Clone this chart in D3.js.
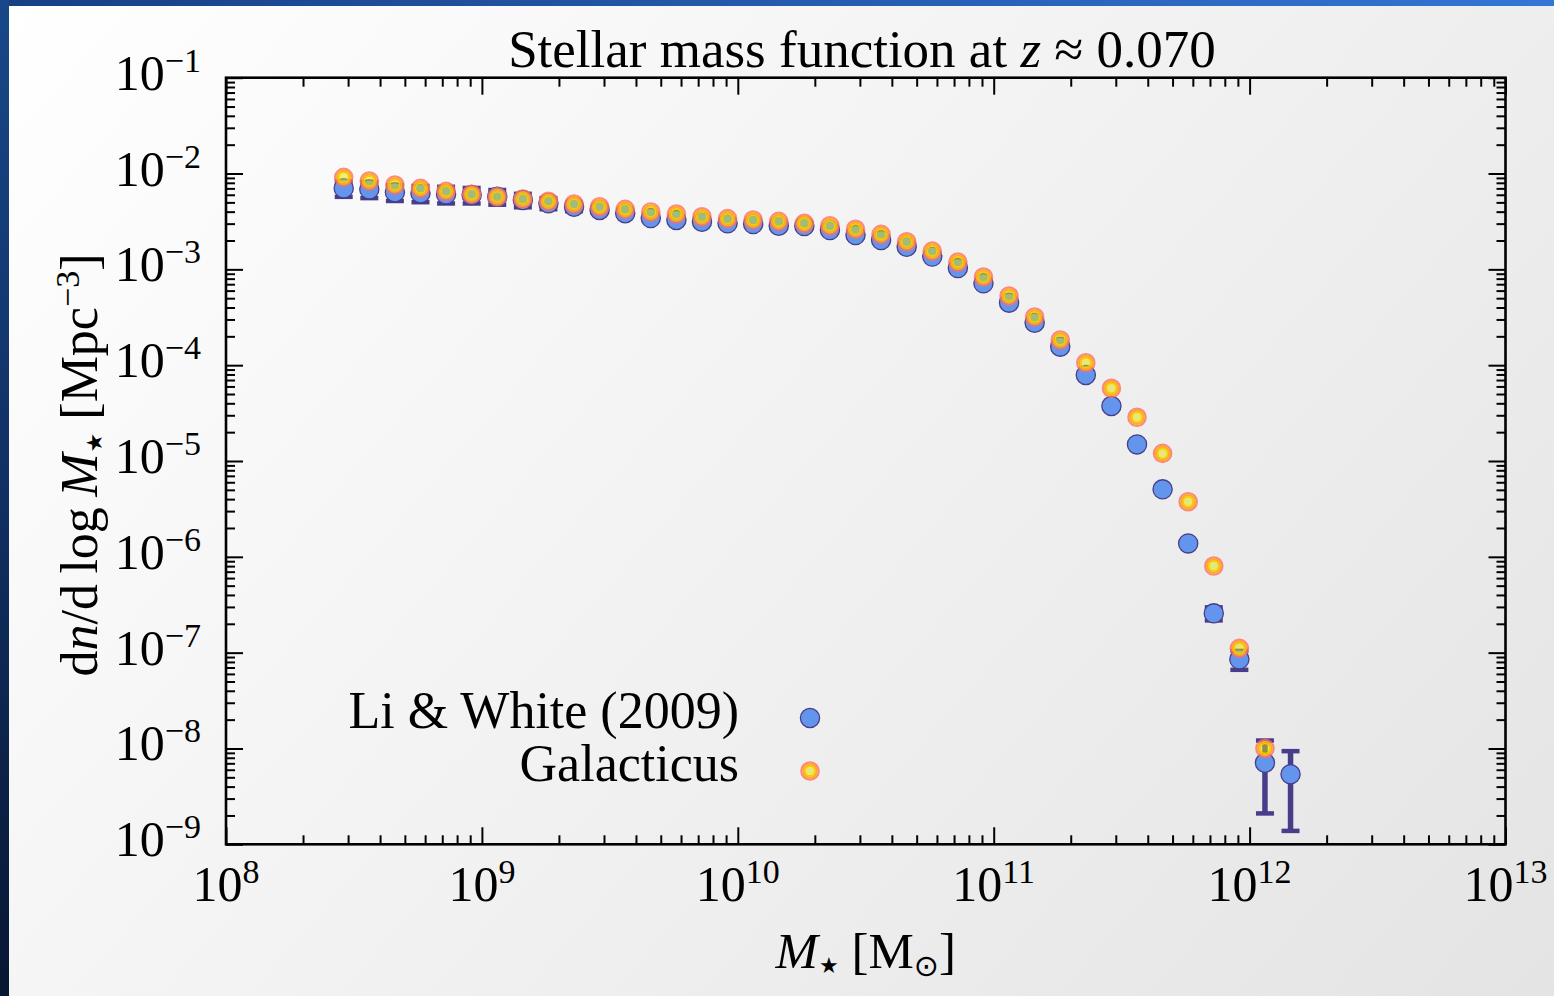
<!DOCTYPE html>
<html>
<head>
<meta charset="utf-8">
<script src="https://cdn.jsdelivr.net/npm/d3@7"></script>
<style>
  html, body { margin: 0; padding: 0; overflow: hidden; background: #ffffff; }
  svg { display: block; }
  text { font-family: "Liberation Serif", "DejaVu Serif", serif; fill: #000; }
</style>
</head>
<body>
<svg id="chart" width="1554" height="996"></svg>
<script>
// Stellar mass bins, log10(M* / Msun)
const logMass = [
  8.46, 8.56, 8.66, 8.76, 8.86, 8.96, 9.06, 9.16, 9.26, 9.36,
  9.46, 9.56, 9.66, 9.76, 9.86, 9.96, 10.06, 10.16, 10.26, 10.36,
  10.46, 10.56, 10.66, 10.76, 10.86, 10.96, 11.06, 11.16, 11.26, 11.36,
  11.46, 11.56, 11.66, 11.76, 11.86, 11.96, 12.06, 12.16
];

// Li & White (2009): dn/dlogM [Mpc^-3] and 1-sigma uncertainties
const liWhitePhi = [
  7.01e-3, 6.84e-3, 6.37e-3, 6.22e-3, 6.07e-3, 5.97e-3, 5.73e-3, 5.29e-3, 4.89e-3, 4.50e-3,
  4.16e-3, 3.85e-3, 3.43e-3, 3.27e-3, 3.14e-3, 3.02e-3, 2.97e-3, 2.85e-3, 2.83e-3, 2.57e-3,
  2.28e-3, 2.02e-3, 1.72e-3, 1.36e-3, 1.03e-3, 7.15e-4, 4.49e-4, 2.77e-4, 1.56e-4, 7.89e-5,
  3.75e-5, 1.49e-5, 5.06e-6, 1.38e-6, 2.57e-7, 8.52e-8, 7.10e-9, 5.38e-9
];
const liWhiteSigma = [
  1.3e-3, 1.3e-3, 1.2e-3, 1.2e-3, 1.2e-3, 1.1e-3, 1.0e-3, 8.5e-4, 6.5e-4, 4.5e-4,
  6.0e-5, 5.0e-5, 4.0e-5, 4.0e-5, 3.5e-5, 3.5e-5, 3.5e-5, 3.0e-5, 3.0e-5, 3.0e-5,
  2.5e-5, 2.2e-5, 2.0e-5, 1.7e-5, 1.3e-5, 1.0e-5, 7.0e-6, 5.0e-6, 3.0e-6, 1.6e-6,
  8.0e-7, 4.0e-7, 1.6e-7, 6.0e-8, 4.0e-8, 1.9e-8, 5.0e-9, 4.0e-9
];

// Galacticus model prediction (one bin fewer than the data)
const galacticusPhi = [
  9.13e-3, 8.36e-3, 7.59e-3, 7.01e-3, 6.52e-3, 6.07e-3, 5.73e-3, 5.42e-3, 5.13e-3, 4.81e-3,
  4.50e-3, 4.23e-3, 3.97e-3, 3.78e-3, 3.54e-3, 3.38e-3, 3.27e-3, 3.17e-3, 3.02e-3, 2.85e-3,
  2.62e-3, 2.32e-3, 1.94e-3, 1.55e-3, 1.19e-3, 8.32e-4, 5.27e-4, 3.18e-4, 1.83e-4, 1.06e-4,
  5.74e-5, 2.86e-5, 1.20e-5, 3.76e-6, 8.02e-7, 1.11e-7, 1.00e-8
];

const xTickExponents = [8, 9, 10, 11, 12, 13];
const yTickExponents = [-1, -2, -3, -4, -5, -6, -7, -8, -9];
const seriesNames = ["Li & White (2009)", "Galacticus"];
const titleRedshift = "0.070";

// ---------------------------------------------------------------
const W = 1554, H = 996;
const plot = { left: 226, right: 1505.5, top: 77.7, bottom: 844.3 };
const svg = d3.select("#chart");
const defs = svg.append("defs");

// Slide-style background: pale diagonal gradient with blue edge bars
const bg = defs.append("linearGradient").attr("id", "bgGrad")
  .attr("gradientUnits", "userSpaceOnUse")
  .attr("x1", 0).attr("y1", 0).attr("x2", 1371).attr("y2", 1203);
bg.append("stop").attr("offset", 0).attr("stop-color", "#ffffff");
bg.append("stop").attr("offset", 1).attr("stop-color", "#e4e4e4");

const topBar = defs.append("linearGradient").attr("id", "topBar")
  .attr("x1", 0).attr("y1", 0).attr("x2", 1).attr("y2", 0);
topBar.append("stop").attr("offset", 0).attr("stop-color", "#173f84");
topBar.append("stop").attr("offset", 1).attr("stop-color", "#3376d6");

const leftBar = defs.append("linearGradient").attr("id", "leftBar")
  .attr("x1", 0).attr("y1", 0).attr("x2", 0).attr("y2", 1);
leftBar.append("stop").attr("offset", 0).attr("stop-color", "#184889");
leftBar.append("stop").attr("offset", 0.5).attr("stop-color", "#112f63");
leftBar.append("stop").attr("offset", 1).attr("stop-color", "#081732");

svg.append("rect").attr("width", W).attr("height", H).attr("fill", "url(#bgGrad)");
svg.append("rect").attr("x", 0).attr("y", 0).attr("width", W).attr("height", 6).attr("fill", "url(#topBar)");
svg.append("rect").attr("x", 0).attr("y", 0).attr("width", 9).attr("height", H).attr("fill", "url(#leftBar)");

// Scales
const x = d3.scaleLog().domain([1e8, 1e13]).range([plot.left, plot.right]);
const y = d3.scaleLog().domain([1e-9, 1e-1]).range([plot.bottom, plot.top]);

const xMajor = xTickExponents.map(e => Math.pow(10, e));
const yMajor = yTickExponents.map(e => Math.pow(10, e));
const isDecade = v => Math.abs(Math.log10(v) - Math.round(Math.log10(v))) < 1e-9;
const xMinor = x.ticks().filter(v => !isDecade(v));
const yMinor = y.ticks().filter(v => !isDecade(v));

// Inward ticks on all four sides
function tickAxis(axisFn, scale, values, size, transform) {
  const g = svg.append("g").attr("transform", transform)
    .call(axisFn(scale).tickValues(values).tickSize(-size).tickSizeOuter(0).tickFormat(""));
  g.select(".domain").remove();
  g.selectAll(".tick line").attr("stroke", "#000").attr("stroke-width", 2);
  return g;
}
const MAJ = 17, MIN = 9;
tickAxis(d3.axisBottom, x, xMajor, MAJ, `translate(0,${plot.bottom})`);
tickAxis(d3.axisBottom, x, xMinor, MIN, `translate(0,${plot.bottom})`);
tickAxis(d3.axisTop, x, xMajor, MAJ, `translate(0,${plot.top})`);
tickAxis(d3.axisTop, x, xMinor, MIN, `translate(0,${plot.top})`);
tickAxis(d3.axisLeft, y, yMajor, MAJ, `translate(${plot.left},0)`);
tickAxis(d3.axisLeft, y, yMinor, MIN, `translate(${plot.left},0)`);
tickAxis(d3.axisRight, y, yMajor, MAJ, `translate(${plot.right},0)`);
tickAxis(d3.axisRight, y, yMinor, MIN, `translate(${plot.right},0)`);

svg.append("rect")
  .attr("x", plot.left).attr("y", plot.top)
  .attr("width", plot.right - plot.left).attr("height", plot.bottom - plot.top)
  .attr("fill", "none").attr("stroke", "#000").attr("stroke-width", 2.6);

// Power-of-ten tick labels
const BASE = 50, SUP = 34;
function powerLabel(g, exp) {
  g.append("tspan").text("10");
  g.append("tspan").attr("font-size", SUP).attr("dy", -18)
    .text(exp < 0 ? "\u2212" + Math.abs(exp) : String(exp));
}
xTickExponents.forEach(e => {
  const t = svg.append("text").attr("x", x(Math.pow(10, e))).attr("y", 901)
    .attr("text-anchor", "middle").attr("font-size", BASE);
  powerLabel(t, e);
});
yTickExponents.forEach(e => {
  const t = svg.append("text").attr("x", 201).attr("y", y(Math.pow(10, e)) + 12)
    .attr("text-anchor", "end").attr("font-size", BASE);
  powerLabel(t, e);
});

// Title
const title = svg.append("text").attr("x", 862).attr("y", 67)
  .attr("text-anchor", "middle").attr("font-size", 53);
title.append("tspan").text("Stellar mass function at ");
title.append("tspan").attr("font-style", "italic").text("z");
title.append("tspan").text(" \u2248 " + titleRedshift);

// Subscript star used in the mass symbol
function starSub(t) {
  t.append("tspan").attr("font-family", "DejaVu Sans").attr("font-size", 22)
    .attr("dx", 1).attr("dy", 5).text("\u2605");
  t.append("tspan").attr("dy", -5).text(" ");
}

// Axis titles
const xt = svg.append("text").attr("x", (plot.left + plot.right) / 2).attr("y", 968)
  .attr("text-anchor", "middle").attr("font-size", 51);
xt.append("tspan").attr("font-style", "italic").text("M");
starSub(xt);
xt.append("tspan").text("[M");
xt.append("tspan").attr("font-size", 30).attr("dy", 8).attr("font-family", "DejaVu Sans").text("\u2299");
xt.append("tspan").attr("dy", -8).text("]");

const yt = svg.append("text")
  .attr("transform", `translate(97,${(plot.top + plot.bottom) / 2 + 4}) rotate(-90)`)
  .attr("text-anchor", "middle").attr("font-size", 52);
yt.append("tspan").text("d");
yt.append("tspan").attr("font-style", "italic").text("n");
yt.append("tspan").text("/d\u2009log\u2009");
yt.append("tspan").attr("font-style", "italic").text("M");
starSub(yt);
yt.append("tspan").text("[Mpc");
yt.append("tspan").attr("font-size", SUP).attr("dy", -18).text("\u22123");
yt.append("tspan").attr("dy", 18).text("]");

// Marker styles
const DATA_FILL = "#6495ed", DATA_EDGE = "#483d8b";
function dataMarker(g, cx, cy) {
  g.append("circle").attr("cx", cx).attr("cy", cy).attr("r", 9.6)
    .attr("fill", DATA_FILL).attr("stroke", DATA_EDGE).attr("stroke-width", 1.3);
}
function modelMarker(g, cx, cy) {
  const m = g.append("g").attr("transform", `translate(${cx},${cy})`);
  m.append("circle").attr("r", 8.7).attr("fill", "none")
    .attr("stroke", "#ff6f61").attr("stroke-width", 2.2).attr("stroke-opacity", 0.8);
  m.append("circle").attr("r", 6.7).attr("fill", "none")
    .attr("stroke", "#ffac1c").attr("stroke-width", 2.2);
  m.append("circle").attr("r", 4.9).attr("fill", "none")
    .attr("stroke", "#f2cf00").attr("stroke-width", 1.8);
  m.append("circle").attr("r", 4.0).attr("fill", "#e6e000").attr("fill-opacity", 0.5);
}

// Li & White error bars (drawn beneath the points)
const eb = svg.append("g");
const CAP = 9;
logMass.forEach((lm, i) => {
  const cx = x(Math.pow(10, lm));
  const hi = y(liWhitePhi[i] + liWhiteSigma[i]);
  const lo = y(liWhitePhi[i] - liWhiteSigma[i]);
  eb.append("line").attr("x1", cx).attr("x2", cx).attr("y1", hi).attr("y2", lo)
    .attr("stroke", DATA_EDGE).attr("stroke-width", 5.5);
  [hi, lo].forEach(yy => {
    eb.append("line").attr("x1", cx - CAP).attr("x2", cx + CAP).attr("y1", yy).attr("y2", yy)
      .attr("stroke", DATA_EDGE).attr("stroke-width", 4.5);
  });
});

const dataLayer = svg.append("g");
logMass.forEach((lm, i) => dataMarker(dataLayer, x(Math.pow(10, lm)), y(liWhitePhi[i])));

const modelLayer = svg.append("g");
galacticusPhi.forEach((v, i) => modelMarker(modelLayer, x(Math.pow(10, logMass[i])), y(v)));

// Legend
const leg = svg.append("g");
const legendRows = [
  { name: seriesNames[0], base: 728, mark: 718, draw: dataMarker },
  { name: seriesNames[1], base: 781, mark: 771, draw: modelMarker }
];
legendRows.forEach(r => {
  leg.append("text").attr("x", 739).attr("y", r.base).attr("text-anchor", "end")
    .attr("font-size", 52).text(r.name);
  r.draw(leg, 810, r.mark);
});
</script>
</body>
</html>
